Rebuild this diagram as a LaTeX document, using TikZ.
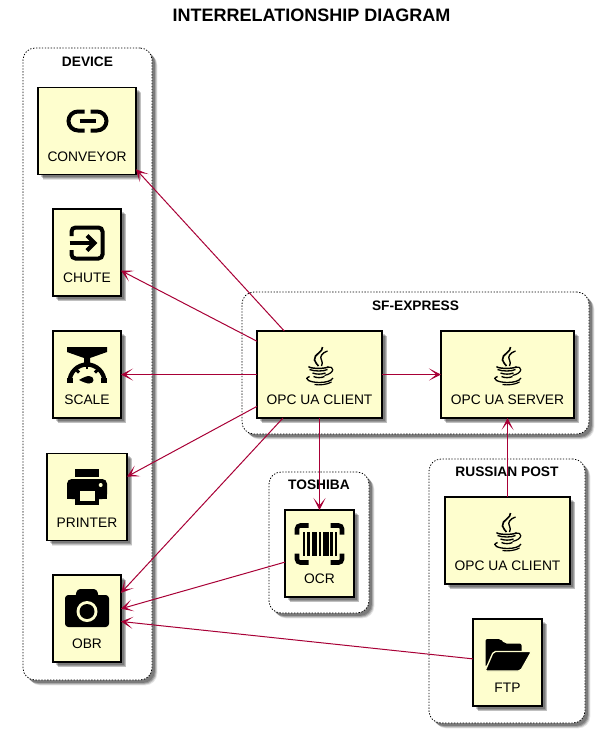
\documentclass[tikz,border=0pt]{standalone}
\usepackage{fontspec}
\setmainfont{Liberation Sans}
\usetikzlibrary{shapes,arrows.meta,shadows}
\definecolor{boxcolour}{HTML}{FEFECE}
\definecolor{arrowcolour}{HTML}{A80036}
\tikzset{
  softshadow/.style={
    drop shadow={shadow xshift=4pt,shadow yshift=-4pt,opacity=.1,fill=black},
    drop shadow={shadow xshift=3.4pt,shadow yshift=-3.4pt,opacity=.16,fill=black},
    drop shadow={shadow xshift=2.8pt,shadow yshift=-2.8pt,opacity=.2,fill=black},
    drop shadow={shadow xshift=2.2pt,shadow yshift=-2.2pt,opacity=.2,fill=black}},
  cluster/.style={draw=black,line width=.6pt,dash pattern=on 1pt off 1.2pt,fill=white,rounded corners=9pt,outer sep=0pt,softshadow},
  clustertitle/.style={font=\fontsize{10.3}{12}\selectfont\bfseries,inner sep=0pt},
  box/.style={draw=black,line width=1pt,fill=boxcolour,outer sep=0pt,inner sep=1pt,softshadow,
    minimum height=65.25pt,text height=45pt,text depth=0pt,font=\fontsize{10.35}{12}\selectfont},
  link/.style={draw=arrowcolour,line width=.75pt,-{Stealth[length=9pt,width=9pt,inset=5.5pt]}},
  % icons, centred on (0,0), one unit is one pixel
  linkicon/.pic={
    \draw[line width=3pt] (-2.5,-9.5) -- (-9,-9.5) arc[start angle=270,end angle=90,radius=9.5] -- (-2.5,9.5);
    \draw[line width=3pt] (3.5,-9.5) -- (10,-9.5) arc[start angle=-90,end angle=90,radius=9.5] -- (3.5,9.5);
    \draw[line width=2.8pt] (-7.5,0) -- (8.5,0);
  },
  exiticon/.pic={
    \draw[line width=3pt,rounded corners=3pt] (-15.5,-7) -- (-15.5,-15.5) -- (15.5,-15.5) -- (15.5,15.5) -- (-15.5,15.5) -- (-15.5,7);
    \draw[line width=3pt] (-17.5,0) -- (7,0);
    \draw[line width=3pt] (0,-7.5) -- (7.5,0) -- (0,7.5);
  },
  scaleicon/.pic={
    \fill (-20,-18) -- (20,-18) -- (20,-13) -- (3,-7) -- (3,-2) -- (-3,-2) -- (-3,-7) -- (-20,-13) -- cycle;
    \draw[line width=3.2pt] (-17.5,17) arc[start angle=180,end angle=360,radius=17.5];
    \fill (-20,13) rectangle (-14,17.5);
    \fill (14,13) rectangle (20,17.5);
    \draw[line width=2.2pt] (-8,7.5) -- (-12,3.5);
    \draw[line width=2.2pt] (8,7.5) -- (12,3.5);
    \draw[line width=2.2pt] (0,4) -- (0,-2);
    \fill (-8,15) .. controls (-4,12.5) and (0,11) .. (2,11) .. controls (5,11) and (6.5,13) .. (6.5,15) .. controls (6.5,17) and (5,18.5) .. (2,18.5) .. controls (0,18.5) and (-4,17) .. (-8,15) -- cycle;
  },
  printericon/.pic={
    \fill (-12,-18) rectangle (12,-10.5);
    \fill[rounded corners=3.5pt] (-20,12) -- (-20,-8) -- (20,-8) -- (20,12) -- cycle;
    \fill (-20,6) rectangle (20,12);
    \fill (-12,3) rectangle (12,18);
    \fill[boxcolour] (-7.5,4) rectangle (7.5,13.5);
    \fill[boxcolour] (13.7,-2) circle (2);
  },
  cameraicon/.pic={
    \fill[rounded corners=2.5pt] (-22,-16) rectangle (22,16);
    \fill[rounded corners=2.5pt] (-10,-22) -- (10,-22) -- (12,-12) -- (-12,-12) -- cycle;
    \fill[boxcolour] (0,0.5) circle (10.5);
    \fill (0,0.5) circle (7.5);
  },
  javaicon/.pic={
    \draw[line width=1.2pt] (3,-18) .. controls (4,-13) and (-6,-11) .. (-5,-5) .. controls (-4.5,-2) and (-2,-1) .. (-1,1);
    \draw[line width=1pt] (8,-14) .. controls (2,-12) and (0,-8) .. (2,-5) .. controls (3,-3) and (3,-1) .. (2,1);
    \draw[line width=1.1pt] (-11,1.5) .. controls (-10,4) and (8,4) .. (9,1.5);
    \draw[line width=1pt] (-10,4.5) .. controls (-5,6.5) and (4,6.5) .. (8,4.5);
    \draw[line width=1pt] (-7,8) .. controls (-3,9.5) and (2,9.5) .. (6,8);
    \draw[line width=1pt] (-6,11.5) .. controls (-3,13) and (2,13) .. (5,11.5);
    \draw[line width=.9pt] (8,2.5) .. controls (15,0.5) and (16,8) .. (5,10.5);
    \draw[line width=1pt] (-10,11.5) .. controls (-17,14) and (-9,17.5) .. (0,17.5) .. controls (6,17.5) and (12,16) .. (13.5,13);
    \draw[line width=.9pt] (-5,19.5) .. controls (0,20.5) and (8,19.5) .. (12,17);
  },
  barcodeicon/.pic={
    \begin{scope}[line width=3.4pt]
    \draw[rounded corners=2.5pt] (-22.5,-9.5) -- (-22.5,-18.5) -- (-11,-18.5);
    \draw[rounded corners=2.5pt] (22.5,-9.5) -- (22.5,-18.5) -- (11,-18.5);
    \draw[rounded corners=2.5pt] (-22.5,9.5) -- (-22.5,18.5) -- (-11,18.5);
    \draw[rounded corners=2.5pt] (22.5,9.5) -- (22.5,18.5) -- (11,18.5);
    \end{scope}
    \foreach \xa/\xb in {-17/-14.7,-12.3/-9.8,-8/-2.5,-0.7/1.3,3.5/9,10.8/13,15/17}
      \fill (\xa,-12) rectangle (\xb,12);
  },
  foldericon/.pic={
    \fill[rounded corners=1.5pt] (-22,-16) -- (-7,-16) -- (-3,-11.5) -- (14,-11.5) -- (14,-2) -- (-12,-2) -- (-22,12) -- cycle;
    \filldraw[draw=boxcolour,line width=1pt,rounded corners=1.5pt] (-14,-3.5) -- (24,-3.5) -- (13,16) -- (-22.5,16) -- cycle;
  }
}

\begin{document}
\begin{tikzpicture}[x=.75pt,y=-.75pt]
\useasboundingbox (0,0) rectangle (599,732);

\node[font=\fontsize{13.5}{16}\selectfont\bfseries,inner sep=0pt] (title) at (311.5,15) {INTERRELATIONSHIP DIAGRAM};

% Clusters
\node[cluster,minimum width=96.75pt,minimum height=474pt] (device) at (87.5,364) {};
\node[clustertitle,yshift=-10.5pt] (devicetitle) at (device.north) {DEVICE};
\node[cluster,minimum width=260.25pt,minimum height=106.5pt] (sfexpress) at (415.5,363) {};
\node[clustertitle,yshift=-10.5pt] (sfexpresstitle) at (sfexpress.north) {SF-EXPRESS};
\node[cluster,minimum width=75pt,minimum height=105.75pt] (toshiba) at (319,542.5) {};
\node[clustertitle,yshift=-9.75pt] (toshibatitle) at (toshiba.north) {TOSHIBA};
\node[cluster,minimum width=117pt,minimum height=198pt] (russianpost) at (507,591) {};
\node[clustertitle,yshift=-9.75pt] (russianposttitle) at (russianpost.north) {RUSSIAN POST};

% Device
\node[box,minimum width=73.5pt] (conveyor) at (87,131) {CONVEYOR};
\node[box,minimum width=51pt] (chute) at (87,252.5) {CHUTE};
\node[box,minimum width=51pt] (scale) at (87,374.5) {SCALE};
\node[box,minimum width=60pt] (printer) at (87,497) {PRINTER};
\node[box,minimum width=51pt] (obr) at (87,618.5) {OBR};

% SF-Express
\node[box,minimum width=93.75pt] (client) at (319.5,374.5) {OPC UA CLIENT};
\node[box,minimum width=99.75pt] (server) at (507.5,374.5) {OPC UA SERVER};

% Toshiba
\node[box,minimum width=51.75pt] (ocr) at (319.5,553.5) {OCR};

% Russian Post
\node[box,minimum width=93.75pt] (rpclient) at (507.5,540.5) {OPC UA CLIENT};
\node[box,minimum width=51.75pt] (ftp) at (507.5,662.5) {FTP};

% Icons
\pic at (87,121) {linkicon};
\pic at (87,243) {exiticon};
\pic at (87,365) {scaleicon};
\pic at (87,487) {printericon};
\pic at (87,611) {cameraicon};
\pic at (319.5,365) {javaicon};
\pic at (507.5,365) {javaicon};
\pic at (507.5,531) {javaicon};
\pic at (319.5,544) {barcodeicon};
\pic at (507.5,655) {foldericon};

% Connections from the client
\draw[link] (client.129) -- (conveyor.-38.5);
\draw[link] (client.152.9) -- (chute.-28);
\draw[link] (client.west) -- (scale.east);
\draw[link] (client.207.3) -- (printer.27.7);
\draw[link] (client.230.8) -- (obr.37.2);
\draw[link] (client.south) -- (ocr.north);
\draw[link] (client.east) -- (server.west);

% Other connections
\draw[link] (rpclient.north) -- (server.south);
\draw[link] (ocr.194.3) -- (obr.16.7);
\draw[link] (ftp.174.7) -- (obr.-5.4);

\end{tikzpicture}
\end{document}
